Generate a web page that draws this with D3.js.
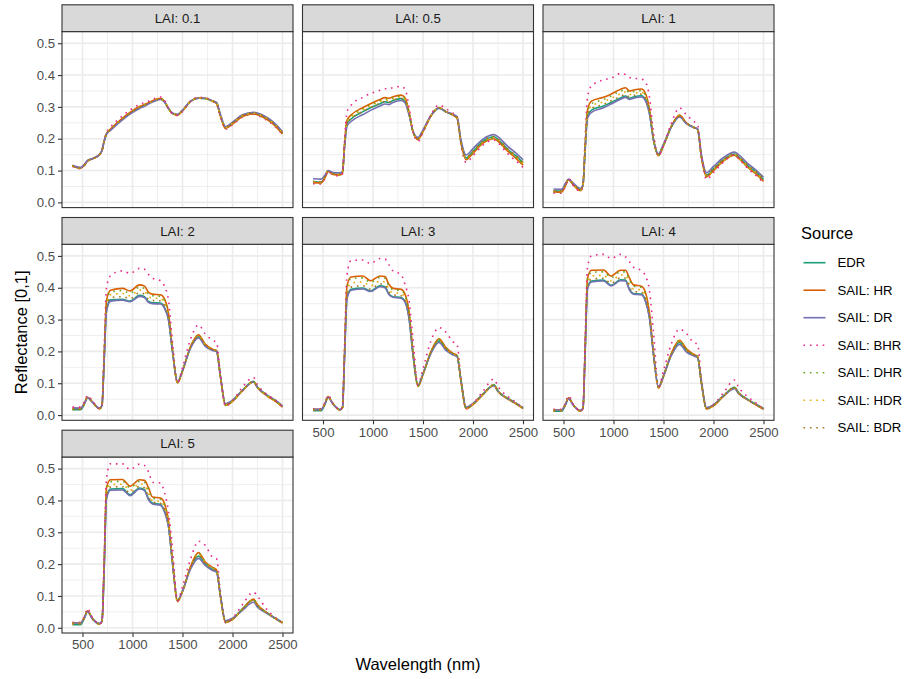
<!DOCTYPE html>
<html>
<head>
<meta charset="utf-8">
<script src="https://cdn.jsdelivr.net/npm/d3@7"></script>
<style>
  body { margin: 0; background: #fff; }
  text { font-family: "Liberation Sans", Arial, sans-serif; }
</style>
</head>
<body>
<script>
"use strict";

//// Data: reflectance spectra per LAI facet and per source.
const wavelength = [400, 480, 520, 550, 600, 670, 695, 715, 740, 780, 900, 975,
  1070, 1120, 1160, 1200, 1280, 1320, 1360, 1400, 1450, 1500, 1580, 1660,
  1730, 1800, 1840, 1880, 1930, 2000, 2100, 2210, 2250, 2350, 2430, 2500];

const laiLevels = ["0.1", "0.5", "1", "2", "3", "4", "5"];
const sources = ["EDR", "SAIL: HR", "SAIL: DR", "SAIL: BHR", "SAIL: DHR", "SAIL: HDR", "SAIL: BDR"];
const colours = ["#1b9e77", "#d95f02", "#7570b3", "#e7298a", "#66a61e", "#e6ab02", "#a6761d"];
const dotted = [false, false, false, true, true, true, true];

const xTicks = [500, 1000, 1500, 2000, 2500];
const xMinor = [750, 1250, 1750, 2250];
const yTicks = [0, 0.1, 0.2, 0.3, 0.4, 0.5];
const yMinor = [0.05, 0.15, 0.25, 0.35, 0.45];

// One array per LAI level, in laiLevels order.
const edr = [
  [0.115,0.108,0.118,0.130,0.137,0.150,0.163,0.190,0.215,0.228,0.262,0.280,
   0.298,0.305,0.311,0.317,0.325,0.316,0.294,0.279,0.275,0.288,0.317,0.327,
   0.326,0.318,0.312,0.272,0.234,0.248,0.272,0.280,0.277,0.262,0.242,0.218],
  [0.065,0.064,0.080,0.098,0.090,0.088,0.095,0.175,0.248,0.262,0.285,0.297,
   0.310,0.316,0.314,0.320,0.326,0.318,0.278,0.222,0.200,0.224,0.272,0.296,
   0.284,0.274,0.266,0.190,0.140,0.160,0.192,0.206,0.198,0.166,0.146,0.125],
  [0.036,0.035,0.055,0.072,0.056,0.040,0.055,0.160,0.272,0.290,0.303,0.314,
   0.328,0.334,0.327,0.331,0.335,0.322,0.280,0.196,0.150,0.180,0.238,0.270,
   0.248,0.235,0.230,0.143,0.085,0.105,0.134,0.152,0.143,0.113,0.094,0.072],
  [0.017,0.017,0.035,0.055,0.040,0.020,0.030,0.160,0.330,0.362,0.364,0.358,
   0.376,0.372,0.357,0.353,0.352,0.338,0.300,0.200,0.103,0.139,0.212,0.246,
   0.218,0.205,0.202,0.120,0.033,0.045,0.078,0.106,0.088,0.061,0.045,0.027],
  [0.014,0.014,0.034,0.057,0.035,0.016,0.024,0.180,0.370,0.395,0.399,0.390,
   0.406,0.403,0.380,0.372,0.369,0.357,0.306,0.191,0.092,0.129,0.197,0.233,
   0.207,0.191,0.186,0.108,0.022,0.035,0.066,0.095,0.076,0.052,0.037,0.022],
  [0.012,0.012,0.032,0.053,0.030,0.013,0.021,0.185,0.400,0.421,0.424,0.408,
   0.425,0.424,0.395,0.382,0.380,0.359,0.306,0.191,0.087,0.123,0.191,0.228,
   0.202,0.188,0.183,0.100,0.021,0.031,0.061,0.087,0.071,0.048,0.033,0.020],
  [0.010,0.010,0.031,0.052,0.028,0.012,0.020,0.170,0.410,0.436,0.437,0.418,
   0.439,0.434,0.405,0.392,0.387,0.366,0.319,0.204,0.084,0.115,0.188,0.225,
   0.199,0.183,0.178,0.099,0.019,0.028,0.060,0.088,0.070,0.046,0.030,0.016]
];

const sailHR = [
  [0.114,0.107,0.117,0.130,0.137,0.150,0.163,0.191,0.216,0.230,0.265,0.283,
   0.301,0.308,0.313,0.319,0.327,0.317,0.295,0.279,0.274,0.287,0.317,0.328,
   0.327,0.318,0.311,0.270,0.232,0.246,0.270,0.278,0.275,0.259,0.239,0.215],
  [0.062,0.061,0.078,0.097,0.088,0.086,0.093,0.180,0.258,0.274,0.298,0.310,
   0.323,0.329,0.327,0.332,0.337,0.329,0.285,0.222,0.197,0.222,0.272,0.298,
   0.285,0.274,0.265,0.186,0.134,0.154,0.186,0.200,0.192,0.160,0.138,0.117],
  [0.033,0.032,0.053,0.071,0.054,0.037,0.054,0.168,0.290,0.318,0.330,0.340,
   0.355,0.360,0.350,0.353,0.356,0.342,0.292,0.198,0.147,0.178,0.240,0.274,
   0.250,0.236,0.230,0.140,0.080,0.100,0.130,0.148,0.139,0.108,0.088,0.066],
  [0.021,0.021,0.038,0.056,0.041,0.020,0.030,0.170,0.360,0.392,0.398,0.390,
   0.409,0.405,0.386,0.380,0.378,0.365,0.320,0.205,0.101,0.138,0.215,0.252,
   0.222,0.207,0.203,0.118,0.030,0.043,0.076,0.104,0.086,0.059,0.043,0.025],
  [0.018,0.018,0.037,0.058,0.036,0.016,0.024,0.190,0.405,0.434,0.437,0.422,
   0.437,0.435,0.410,0.398,0.395,0.380,0.325,0.197,0.090,0.128,0.200,0.240,
   0.212,0.194,0.188,0.106,0.020,0.033,0.064,0.093,0.074,0.050,0.035,0.020],
  [0.016,0.016,0.035,0.054,0.031,0.013,0.021,0.195,0.430,0.455,0.456,0.437,
   0.455,0.455,0.430,0.409,0.405,0.385,0.320,0.196,0.085,0.122,0.195,0.235,
   0.208,0.191,0.185,0.098,0.019,0.029,0.059,0.085,0.069,0.046,0.031,0.018],
  [0.015,0.015,0.034,0.053,0.029,0.012,0.020,0.180,0.440,0.465,0.466,0.445,
   0.465,0.463,0.440,0.411,0.408,0.390,0.335,0.210,0.082,0.114,0.192,0.236,
   0.206,0.190,0.182,0.097,0.017,0.026,0.058,0.090,0.072,0.046,0.028,0.015]
];

const sailDR = [
  [0.117,0.110,0.120,0.132,0.138,0.151,0.164,0.190,0.214,0.226,0.259,0.277,
   0.295,0.302,0.309,0.315,0.323,0.315,0.295,0.281,0.277,0.290,0.318,0.327,
   0.327,0.319,0.314,0.276,0.238,0.252,0.275,0.283,0.281,0.266,0.246,0.222],
  [0.074,0.073,0.086,0.100,0.094,0.093,0.098,0.170,0.240,0.254,0.276,0.289,
   0.303,0.309,0.307,0.314,0.320,0.313,0.275,0.224,0.204,0.228,0.274,0.296,
   0.285,0.277,0.270,0.196,0.149,0.169,0.199,0.213,0.206,0.175,0.155,0.134],
  [0.042,0.041,0.060,0.073,0.060,0.044,0.058,0.155,0.265,0.283,0.297,0.309,
   0.324,0.330,0.323,0.327,0.331,0.319,0.277,0.196,0.153,0.183,0.238,0.268,
   0.247,0.236,0.232,0.148,0.093,0.113,0.141,0.158,0.150,0.120,0.100,0.079],
  [0.022,0.022,0.038,0.054,0.041,0.022,0.031,0.157,0.325,0.358,0.361,0.356,
   0.373,0.369,0.354,0.350,0.349,0.335,0.298,0.200,0.105,0.140,0.210,0.242,
   0.215,0.203,0.200,0.121,0.036,0.047,0.078,0.104,0.087,0.062,0.047,0.029],
  [0.018,0.018,0.036,0.055,0.035,0.018,0.025,0.177,0.365,0.392,0.396,0.388,
   0.403,0.400,0.378,0.370,0.367,0.355,0.304,0.190,0.094,0.130,0.194,0.228,
   0.203,0.189,0.184,0.110,0.025,0.037,0.066,0.092,0.074,0.051,0.037,0.023],
  [0.016,0.016,0.034,0.051,0.030,0.015,0.022,0.182,0.396,0.418,0.421,0.406,
   0.422,0.421,0.393,0.380,0.378,0.357,0.304,0.190,0.089,0.124,0.188,0.222,
   0.198,0.186,0.181,0.102,0.024,0.033,0.060,0.083,0.068,0.047,0.033,0.021],
  [0.015,0.015,0.032,0.050,0.028,0.014,0.021,0.167,0.405,0.432,0.433,0.415,
   0.436,0.431,0.402,0.389,0.385,0.364,0.317,0.203,0.086,0.116,0.184,0.218,
   0.195,0.180,0.175,0.100,0.022,0.030,0.055,0.080,0.065,0.044,0.029,0.017]
];

const sailBHR = [
  [0.113,0.106,0.116,0.130,0.137,0.150,0.163,0.193,0.220,0.236,0.272,0.290,
   0.307,0.314,0.318,0.324,0.331,0.320,0.296,0.278,0.273,0.286,0.318,0.330,
   0.328,0.318,0.310,0.268,0.230,0.244,0.268,0.277,0.273,0.257,0.237,0.213],
  [0.059,0.058,0.075,0.097,0.086,0.083,0.090,0.190,0.285,0.305,0.330,0.342,
   0.352,0.357,0.356,0.361,0.364,0.356,0.300,0.222,0.192,0.220,0.276,0.306,
   0.294,0.280,0.270,0.180,0.126,0.146,0.180,0.196,0.187,0.152,0.130,0.110],
  [0.030,0.029,0.052,0.075,0.052,0.034,0.053,0.190,0.330,0.366,0.385,0.390,
   0.405,0.402,0.392,0.390,0.387,0.378,0.330,0.218,0.145,0.180,0.250,0.297,
   0.275,0.255,0.245,0.145,0.072,0.094,0.126,0.150,0.138,0.104,0.083,0.062],
  [0.025,0.025,0.042,0.062,0.044,0.021,0.032,0.190,0.400,0.438,0.453,0.445,
   0.461,0.458,0.442,0.430,0.422,0.405,0.360,0.230,0.100,0.150,0.238,0.283,
   0.254,0.235,0.228,0.125,0.028,0.045,0.088,0.118,0.096,0.064,0.046,0.025],
  [0.020,0.020,0.040,0.062,0.038,0.016,0.025,0.210,0.440,0.485,0.487,0.476,
   0.492,0.490,0.472,0.453,0.442,0.410,0.360,0.240,0.095,0.145,0.233,0.275,
   0.260,0.230,0.222,0.115,0.020,0.036,0.075,0.113,0.090,0.058,0.040,0.020],
  [0.018,0.018,0.038,0.060,0.033,0.013,0.022,0.220,0.465,0.500,0.505,0.492,
   0.505,0.497,0.482,0.465,0.453,0.437,0.390,0.260,0.090,0.140,0.225,0.270,
   0.256,0.228,0.223,0.110,0.018,0.033,0.070,0.110,0.088,0.056,0.037,0.018],
  [0.017,0.017,0.037,0.060,0.032,0.012,0.021,0.200,0.470,0.515,0.515,0.497,
   0.514,0.510,0.490,0.457,0.455,0.425,0.365,0.250,0.085,0.130,0.215,0.272,
   0.258,0.222,0.217,0.110,0.016,0.030,0.073,0.112,0.099,0.055,0.032,0.015]
];

const sailDHR = [
  [0.114,0.107,0.117,0.130,0.137,0.150,0.163,0.190,0.216,0.229,0.264,0.282,
   0.300,0.307,0.312,0.318,0.326,0.316,0.295,0.279,0.275,0.288,0.317,0.327,
   0.326,0.318,0.312,0.272,0.234,0.248,0.271,0.279,0.276,0.261,0.241,0.217],
  [0.063,0.062,0.079,0.097,0.089,0.087,0.094,0.178,0.255,0.270,0.294,0.306,
   0.319,0.325,0.323,0.328,0.334,0.326,0.283,0.222,0.199,0.223,0.272,0.297,
   0.285,0.275,0.266,0.188,0.137,0.157,0.189,0.203,0.195,0.163,0.142,0.121],
  [0.034,0.033,0.054,0.072,0.055,0.038,0.054,0.165,0.284,0.310,0.323,0.334,
   0.349,0.354,0.345,0.348,0.351,0.337,0.289,0.198,0.148,0.179,0.239,0.272,
   0.249,0.236,0.230,0.141,0.082,0.102,0.131,0.149,0.140,0.109,0.090,0.068],
  [0.020,0.020,0.037,0.056,0.041,0.020,0.030,0.168,0.353,0.386,0.391,0.383,
   0.402,0.398,0.380,0.375,0.373,0.360,0.316,0.204,0.102,0.139,0.215,0.251,
   0.221,0.206,0.203,0.119,0.031,0.044,0.077,0.105,0.087,0.060,0.044,0.026],
  [0.017,0.017,0.036,0.058,0.036,0.016,0.024,0.188,0.400,0.429,0.431,0.417,
   0.432,0.430,0.405,0.394,0.391,0.376,0.321,0.196,0.091,0.128,0.199,0.238,
   0.211,0.193,0.188,0.107,0.021,0.034,0.065,0.094,0.075,0.051,0.036,0.021],
  [0.015,0.015,0.034,0.054,0.031,0.013,0.021,0.193,0.425,0.449,0.450,0.432,
   0.450,0.450,0.424,0.405,0.401,0.380,0.317,0.195,0.086,0.122,0.194,0.234,
   0.207,0.190,0.185,0.099,0.019,0.030,0.060,0.086,0.070,0.047,0.032,0.019],
  [0.014,0.014,0.033,0.053,0.029,0.012,0.020,0.178,0.434,0.459,0.460,0.440,
   0.460,0.457,0.433,0.407,0.404,0.386,0.332,0.208,0.083,0.114,0.191,0.234,
   0.205,0.189,0.181,0.098,0.017,0.027,0.058,0.088,0.071,0.046,0.028,0.015]
];

const sailHDR = [
  [0.115,0.108,0.118,0.131,0.137,0.150,0.163,0.190,0.215,0.229,0.263,0.281,
   0.299,0.306,0.312,0.318,0.326,0.316,0.295,0.279,0.275,0.288,0.317,0.327,
   0.326,0.318,0.312,0.273,0.235,0.249,0.272,0.280,0.277,0.262,0.242,0.218],
  [0.064,0.063,0.079,0.098,0.089,0.087,0.094,0.176,0.252,0.267,0.291,0.303,
   0.316,0.322,0.320,0.325,0.331,0.323,0.281,0.222,0.199,0.223,0.272,0.297,
   0.285,0.275,0.266,0.189,0.138,0.158,0.190,0.204,0.196,0.164,0.144,0.123],
  [0.035,0.034,0.054,0.072,0.055,0.039,0.055,0.163,0.280,0.303,0.316,0.327,
   0.341,0.347,0.339,0.342,0.346,0.332,0.285,0.197,0.149,0.180,0.239,0.271,
   0.249,0.236,0.230,0.142,0.083,0.103,0.132,0.150,0.141,0.111,0.092,0.070],
  [0.019,0.019,0.036,0.055,0.040,0.020,0.030,0.165,0.345,0.378,0.382,0.375,
   0.393,0.389,0.372,0.368,0.366,0.352,0.310,0.203,0.102,0.139,0.214,0.249,
   0.220,0.206,0.202,0.119,0.032,0.044,0.077,0.105,0.087,0.060,0.044,0.026],
  [0.016,0.016,0.035,0.057,0.036,0.016,0.024,0.185,0.388,0.414,0.418,0.406,
   0.421,0.418,0.394,0.385,0.382,0.368,0.315,0.194,0.091,0.128,0.198,0.236,
   0.209,0.192,0.187,0.107,0.021,0.034,0.065,0.094,0.075,0.051,0.036,0.021],
  [0.014,0.014,0.033,0.053,0.031,0.013,0.021,0.190,0.414,0.437,0.439,0.422,
   0.440,0.439,0.411,0.396,0.393,0.372,0.313,0.193,0.086,0.123,0.193,0.232,
   0.205,0.190,0.184,0.099,0.020,0.030,0.060,0.086,0.070,0.047,0.032,0.019],
  [0.013,0.013,0.032,0.052,0.029,0.012,0.020,0.175,0.425,0.450,0.451,0.432,
   0.452,0.448,0.421,0.400,0.397,0.378,0.326,0.206,0.083,0.114,0.190,0.231,
   0.203,0.187,0.180,0.098,0.018,0.027,0.058,0.087,0.070,0.046,0.029,0.016]
];

const sailBDR = [
  [0.116,0.109,0.119,0.131,0.138,0.151,0.163,0.190,0.215,0.228,0.262,0.280,
   0.298,0.305,0.311,0.317,0.325,0.316,0.295,0.280,0.276,0.289,0.317,0.327,
   0.326,0.318,0.313,0.274,0.236,0.250,0.273,0.281,0.279,0.264,0.244,0.220],
  [0.066,0.065,0.081,0.098,0.090,0.089,0.096,0.174,0.248,0.263,0.286,0.298,
   0.311,0.317,0.315,0.321,0.327,0.319,0.279,0.222,0.201,0.225,0.272,0.296,
   0.284,0.275,0.267,0.191,0.141,0.161,0.193,0.207,0.199,0.167,0.147,0.126],
  [0.037,0.036,0.056,0.072,0.057,0.041,0.056,0.161,0.275,0.295,0.308,0.319,
   0.333,0.339,0.332,0.336,0.340,0.327,0.283,0.197,0.150,0.181,0.238,0.270,
   0.248,0.235,0.231,0.144,0.087,0.107,0.136,0.153,0.145,0.115,0.096,0.074],
  [0.018,0.018,0.036,0.055,0.040,0.021,0.030,0.162,0.336,0.369,0.372,0.366,
   0.384,0.380,0.364,0.360,0.359,0.345,0.305,0.202,0.103,0.139,0.213,0.247,
   0.219,0.205,0.202,0.120,0.033,0.045,0.078,0.106,0.088,0.061,0.045,0.027],
  [0.015,0.015,0.035,0.057,0.035,0.016,0.024,0.182,0.376,0.402,0.406,0.396,
   0.412,0.409,0.386,0.378,0.375,0.362,0.310,0.192,0.092,0.129,0.198,0.235,
   0.208,0.192,0.187,0.108,0.022,0.035,0.066,0.095,0.076,0.052,0.037,0.022],
  [0.013,0.013,0.033,0.053,0.030,0.013,0.021,0.187,0.405,0.427,0.430,0.414,
   0.431,0.430,0.402,0.388,0.386,0.365,0.309,0.192,0.087,0.123,0.192,0.230,
   0.204,0.189,0.184,0.100,0.020,0.031,0.061,0.087,0.071,0.048,0.033,0.020],
  [0.012,0.012,0.032,0.052,0.028,0.012,0.020,0.172,0.416,0.442,0.443,0.424,
   0.444,0.440,0.412,0.395,0.391,0.371,0.322,0.205,0.084,0.115,0.189,0.228,
   0.201,0.185,0.179,0.099,0.018,0.028,0.059,0.087,0.070,0.046,0.030,0.016]
];

// Same order as `sources`.
const seriesValues = [edr, sailHR, sailDR, sailBHR, sailDHR, sailHDR, sailBDR];

//// Layout (facet_wrap, 3 columns, theme_bw look).
var width = 908,
  height = 679;
var colX = [62, 302.5, 543];
var rowTop = [4.8, 217.5, 430.2];
var panelW = 231,
  panelH = 176,
  stripH = 26.8;
var fontSmall = "13.2px",
  fontTitle = "16.5px";

var svg = d3.select("body").append("svg")
  .attr("width", width)
  .attr("height", height)
  .style("display", "block");

var x = d3.scaleLinear().domain([295, 2605]).range([0, panelW]);
var y = d3.scaleLinear().domain([-0.0164, 0.5365]).range([panelH, 0]);

var line = d3.line()
  .x(function(d) { return x(d[0]); })
  .y(function(d) { return y(d[1]); })
  .curve(d3.curveMonotoneX);

// Draw each facet.
laiLevels.forEach(function(lai, i) {
  var col = i % 3,
    row = Math.floor(i / 3);
  var g = svg.append("g")
    .attr("transform", "translate(" + colX[col] + "," + (rowTop[row] + stripH) + ")");

  // Strip.
  svg.append("rect")
    .attr("x", colX[col]).attr("y", rowTop[row])
    .attr("width", panelW).attr("height", stripH)
    .attr("fill", "#d9d9d9").attr("stroke", "#333").attr("stroke-width", 1.1);
  svg.append("text")
    .attr("x", colX[col] + panelW / 2).attr("y", rowTop[row] + stripH / 2 + 4.7)
    .attr("text-anchor", "middle")
    .attr("fill", "#1a1a1a").style("font-size", fontSmall)
    .text("LAI: " + lai);

  // Grid (minor then major).
  g.selectAll(".xminor").data(xMinor).enter().append("line")
    .attr("x1", x).attr("x2", x).attr("y1", 0).attr("y2", panelH)
    .attr("stroke", "#ebebeb").attr("stroke-width", 0.8);
  g.selectAll(".yminor").data(yMinor).enter().append("line")
    .attr("y1", y).attr("y2", y).attr("x1", 0).attr("x2", panelW)
    .attr("stroke", "#ebebeb").attr("stroke-width", 0.8);
  g.selectAll(".xmajor").data(xTicks).enter().append("line")
    .attr("x1", x).attr("x2", x).attr("y1", 0).attr("y2", panelH)
    .attr("stroke", "#ebebeb").attr("stroke-width", 1.6);
  g.selectAll(".ymajor").data(yTicks).enter().append("line")
    .attr("y1", y).attr("y2", y).attr("x1", 0).attr("x2", panelW)
    .attr("stroke", "#ebebeb").attr("stroke-width", 1.6);

  // Lines, clipped to the panel.
  g.append("clipPath").attr("id", "clip" + i)
    .append("rect").attr("width", panelW).attr("height", panelH);
  var lines = g.append("g").attr("clip-path", "url(#clip" + i + ")");
  sources.forEach(function(src, s) {
    var pts = wavelength.map(function(w, k) { return [w, seriesValues[s][i][k]]; });
    lines.append("path")
      .attr("d", line(pts))
      .attr("fill", "none")
      .attr("stroke", colours[s])
      .attr("stroke-width", 1.6)
      .attr("stroke-dasharray", dotted[s] ? "1.6,4.8" : null);
  });

  // Panel border.
  g.append("rect")
    .attr("width", panelW).attr("height", panelH)
    .attr("fill", "none").attr("stroke", "#333").attr("stroke-width", 1.1);

  // Axes: y on first column, x where no panel sits below.
  if (col === 0) {
    var ya = g.append("g")
      .call(d3.axisLeft(y).tickValues(yTicks).tickSize(4).tickPadding(3)
        .tickFormat(d3.format(".1f")));
    styleAxis(ya);
  }
  if (i + 3 >= laiLevels.length) {
    var xa = g.append("g")
      .attr("transform", "translate(0," + panelH + ")")
      .call(d3.axisBottom(x).tickValues(xTicks).tickSize(4).tickPadding(3)
        .tickFormat(d3.format("d")));
    styleAxis(xa);
  }
});

function styleAxis(a) {
  a.select(".domain").remove();
  a.selectAll(".tick line").attr("stroke", "#333").attr("stroke-width", 1.1);
  a.selectAll(".tick text")
    .attr("fill", "#4d4d4d")
    .style("font-size", fontSmall)
    .style("font-family", "'Liberation Sans', Arial, sans-serif");
}

// Axis titles.
svg.append("text")
  .attr("x", (colX[0] + colX[2] + panelW) / 2).attr("y", 670)
  .attr("text-anchor", "middle").attr("fill", "#000")
  .style("font-size", fontTitle)
  .text("Wavelength (nm)");
svg.append("text")
  .attr("transform", "translate(27," + ((rowTop[0] + stripH + rowTop[2] + stripH + panelH) / 2) + ") rotate(-90)")
  .attr("text-anchor", "middle").attr("fill", "#000")
  .style("font-size", fontTitle)
  .text("Reflectance [0,1]");

// Legend.
var legend = svg.append("g").attr("transform", "translate(801,0)");
legend.append("text")
  .attr("x", 0).attr("y", 239)
  .attr("fill", "#000").style("font-size", fontTitle)
  .text("Source");
sources.forEach(function(src, s) {
  var cy = 262.7 + s * 27.5;
  legend.append("line")
    .attr("x1", 2.5).attr("x2", 24.5).attr("y1", cy).attr("y2", cy)
    .attr("stroke", colours[s]).attr("stroke-width", 1.6)
    .attr("stroke-dasharray", dotted[s] ? "1.6,4.8" : null);
  legend.append("text")
    .attr("x", 36.5).attr("y", cy + 4.7)
    .attr("fill", "#000").style("font-size", fontSmall)
    .text(src);
});
</script>
</body>
</html>
